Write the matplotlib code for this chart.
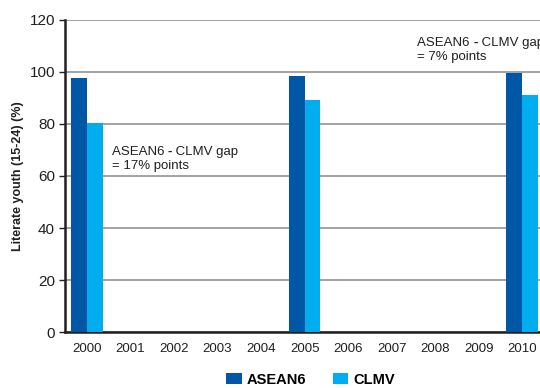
import matplotlib
matplotlib.use("Agg")
import matplotlib.pyplot as plt
from matplotlib.patches import Patch
import numpy as np

years = list(range(2000, 2011))
asean6 = [97.7, 0, 0, 0, 0, 98.5, 0, 0, 0, 0, 99.7]
clmv = [80.4, 0, 0, 0, 0, 89.2, 0, 0, 0, 0, 91.2]
series_names = ["ASEAN6", "CLMV"]
colors = ["#0057a6", "#00aeef"]
gap_values = ["17", "7"]

plt.rcParams["font.family"] = ["Liberation Sans", "DejaVu Sans"]
TEXT = "#231f20"

fig = plt.figure(figsize=(5.4, 3.88), dpi=100)
ax = fig.add_axes([0.120, 0.1443, 0.880, 0.8042])

x = np.array(years, dtype=float)
w = 0.36
for i, (vals, c) in enumerate(zip([asean6, clmv], colors)):
    xs = [xx for xx, v in zip(x, vals) if v > 0]
    vs = [v for v in vals if v > 0]
    ax.bar(np.array(xs) + (i - 0.5) * w, vs, width=w, color=c, zorder=3, linewidth=0)

ax.set_xlim(1999.49, 2010.41)
ax.set_ylim(0, 120)
ax.set_yticks(range(0, 121, 20))
ax.set_xticks(years)
ax.set_xticklabels([str(y) for y in years], fontsize=9.5, color=TEXT)
ax.tick_params(axis="x", length=0, pad=8)
ax.tick_params(axis="y", length=4, width=1, labelsize=11, colors=TEXT, pad=3)
ax.yaxis.grid(True, color="#8a8a8a", linewidth=1.1, zorder=0)
ax.set_axisbelow(True)

for s in ["top", "right"]:
    ax.spines[s].set_visible(False)
for s in ["left", "bottom"]:
    ax.spines[s].set_linewidth(1.8)
    ax.spines[s].set_color(TEXT)

ax.set_ylabel("Literate youth (15-24) (%)", fontsize=9, fontweight="bold",
              color=TEXT, labelpad=4)


def gap_note(xd, yd, gap):
    """Two-line note with a bold hyphen between the group names."""
    fs = 9.5
    t1 = ax.text(xd, yd, "ASEAN6 ", fontsize=fs, color=TEXT, ha="left", va="bottom")
    t2 = ax.annotate("-", xy=(1, 0), xycoords=t1, fontsize=fs, fontweight="bold",
                     color=TEXT, ha="left", va="bottom")
    ax.annotate(" CLMV gap", xy=(1, 0), xycoords=t2, fontsize=fs,
                color=TEXT, ha="left", va="bottom")
    ax.annotate("= " + gap + "% points", xy=(0, 0), xycoords=t1,
                xytext=(0, -1.5), textcoords="offset points",
                fontsize=fs, color=TEXT, ha="left", va="top")


gap_note(2000.57, 67.0, gap_values[0])
gap_note(2007.59, 109.0, gap_values[1])

handles = [Patch(facecolor=c, edgecolor="none") for c in colors]
fig.legend(handles, series_names, loc="lower left", bbox_to_anchor=(0.395, -0.03),
           ncol=2, frameon=False, prop={"weight": "bold", "size": 10.5},
           handlelength=1.05, handleheight=0.85, handletextpad=0.35,
           columnspacing=1.8)

fig.savefig("out.png", dpi=100)
